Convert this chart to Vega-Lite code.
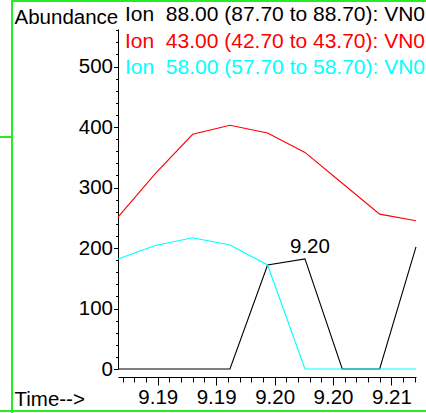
{
  "$schema": "https://vega.github.io/schema/vega-lite/v6.json",
  "width": 298,
  "height": 340,
  "autosize": {"type": "none"},
  "padding": {"left": 118, "top": 29, "right": 10, "bottom": 44},
  "background": "white",
  "config": {
    "view": {"stroke": null},
    "font": "Liberation Sans",
    "axis": {"grid": false, "domainColor": "black", "tickColor": "black", "labelColor": "black", "titleColor": "black", "labelFont": "Liberation Sans", "titleFont": "Liberation Sans", "labelFontSize": 20.5, "titleFontSize": 20.5, "titleFontWeight": "normal", "labelOverlap": false, "labelFlush": false, "labelBound": false}
  },
  "datasets": {
    "scans": [
      {"t": 9.1856, "ion": "Ion\u00a0\u00a088.00 (87.70 to 88.70): VN0", "abundance": 0},
      {"t": 9.18879, "ion": "Ion\u00a0\u00a088.00 (87.70 to 88.70): VN0", "abundance": 0},
      {"t": 9.19199, "ion": "Ion\u00a0\u00a088.00 (87.70 to 88.70): VN0", "abundance": 0},
      {"t": 9.19518, "ion": "Ion\u00a0\u00a088.00 (87.70 to 88.70): VN0", "abundance": 0},
      {"t": 9.1984, "ion": "Ion\u00a0\u00a088.00 (87.70 to 88.70): VN0", "abundance": 172},
      {"t": 9.2016, "ion": "Ion\u00a0\u00a088.00 (87.70 to 88.70): VN0", "abundance": 182},
      {"t": 9.20479, "ion": "Ion\u00a0\u00a088.00 (87.70 to 88.70): VN0", "abundance": 0},
      {"t": 9.20799, "ion": "Ion\u00a0\u00a088.00 (87.70 to 88.70): VN0", "abundance": 0},
      {"t": 9.2111, "ion": "Ion\u00a0\u00a088.00 (87.70 to 88.70): VN0", "abundance": 202},
      {"t": 9.1856, "ion": "Ion\u00a0\u00a043.00 (42.70 to 43.70): VN0", "abundance": 251},
      {"t": 9.18879, "ion": "Ion\u00a0\u00a043.00 (42.70 to 43.70): VN0", "abundance": 323},
      {"t": 9.19199, "ion": "Ion\u00a0\u00a043.00 (42.70 to 43.70): VN0", "abundance": 388},
      {"t": 9.19518, "ion": "Ion\u00a0\u00a043.00 (42.70 to 43.70): VN0", "abundance": 403},
      {"t": 9.1984, "ion": "Ion\u00a0\u00a043.00 (42.70 to 43.70): VN0", "abundance": 390},
      {"t": 9.2016, "ion": "Ion\u00a0\u00a043.00 (42.70 to 43.70): VN0", "abundance": 358},
      {"t": 9.20479, "ion": "Ion\u00a0\u00a043.00 (42.70 to 43.70): VN0", "abundance": 307},
      {"t": 9.20799, "ion": "Ion\u00a0\u00a043.00 (42.70 to 43.70): VN0", "abundance": 256},
      {"t": 9.2111, "ion": "Ion\u00a0\u00a043.00 (42.70 to 43.70): VN0", "abundance": 245},
      {"t": 9.1856, "ion": "Ion\u00a0\u00a058.00 (57.70 to 58.70): VN0", "abundance": 182},
      {"t": 9.18879, "ion": "Ion\u00a0\u00a058.00 (57.70 to 58.70): VN0", "abundance": 204},
      {"t": 9.19199, "ion": "Ion\u00a0\u00a058.00 (57.70 to 58.70): VN0", "abundance": 217},
      {"t": 9.19518, "ion": "Ion\u00a0\u00a058.00 (57.70 to 58.70): VN0", "abundance": 205},
      {"t": 9.1984, "ion": "Ion\u00a0\u00a058.00 (57.70 to 58.70): VN0", "abundance": 172},
      {"t": 9.2016, "ion": "Ion\u00a0\u00a058.00 (57.70 to 58.70): VN0", "abundance": 0},
      {"t": 9.20479, "ion": "Ion\u00a0\u00a058.00 (57.70 to 58.70): VN0", "abundance": 0},
      {"t": 9.20799, "ion": "Ion\u00a0\u00a058.00 (57.70 to 58.70): VN0", "abundance": 0},
      {"t": 9.2111, "ion": "Ion\u00a0\u00a058.00 (57.70 to 58.70): VN0", "abundance": 0}
    ],
    "peaks": [
      {"t": 9.2016, "abundance": 182}
    ]
  },
  "layer": [
    {
      "data": {"values": [{}]},
      "mark": {"type": "rule", "color": "#22ee22", "strokeWidth": 2},
      "encoding": {
        "x": {"datum": 9.17653, "type": "quantitative", "scale": {"domain": [9.1856, 9.2111], "nice": false, "zero": false}},
        "y": {"datum": 612, "type": "quantitative", "scale": {"domain": [0, 562], "nice": false}},
        "y2": {"datum": -74}
      }
    },
    {
      "data": {"values": [{}]},
      "mark": {"type": "rule", "color": "#22ee22", "strokeWidth": 2},
      "encoding": {
        "x": {"datum": 9.17653, "type": "quantitative", "scale": {"domain": [9.1856, 9.2111], "nice": false, "zero": false}},
        "x2": {"datum": 9.2125},
        "y": {"datum": 608.3, "type": "quantitative", "scale": {"domain": [0, 562], "nice": false}}
      }
    },
    {
      "data": {"values": [{}]},
      "mark": {"type": "rule", "color": "#22ee22", "strokeWidth": 2},
      "encoding": {
        "x": {"datum": 9.1753, "type": "quantitative", "scale": {"domain": [9.1856, 9.2111], "nice": false, "zero": false}},
        "x2": {"datum": 9.2125},
        "y": {"datum": -69.6, "type": "quantitative", "scale": {"domain": [0, 562], "nice": false}}
      }
    },
    {
      "data": {"values": [{}]},
      "mark": {"type": "rule", "color": "#22ee22", "strokeWidth": 2},
      "encoding": {
        "x": {"datum": 9.1753, "type": "quantitative", "scale": {"domain": [9.1856, 9.2111], "nice": false, "zero": false}},
        "x2": {"datum": 9.17653},
        "y": {"datum": 383.5, "type": "quantitative", "scale": {"domain": [0, 562], "nice": false}}
      }
    },
    {
      "data": {"name": "scans"},
      "mark": {"type": "line", "strokeWidth": 1.1},
      "encoding": {
        "x": {
          "field": "t", "type": "quantitative",
          "scale": {"domain": [9.1856, 9.2111], "nice": false, "zero": false},
          "axis": {
            "title": "Time-->",
            "values": [9.186, 9.187, 9.188, 9.189, 9.19, 9.191, 9.192, 9.193, 9.194, 9.195, 9.196, 9.197, 9.198, 9.199, 9.2, 9.201, 9.202, 9.203, 9.204, 9.205, 9.206, 9.207, 9.208, 9.209, 9.21, 9.211],
            "tickCount": 200,
            "format": ".2f",
            "labelExpr": "round((datum.value - 9.189) * 1000) % 5 === 0 ? datum.label : ''",
            "tickSize": {"condition": {"test": "round((datum.value - 9.189) * 1000) % 5 === 0", "value": 8}, "value": 5},
            "labelOverlap": false,
            "labelFlush": false,
            "labelBound": false,
            "offset": 8,
            "labelPadding": 2,
            "titleAngle": 0,
            "titleAlign": "left",
            "titleAnchor": "start",
            "titleBaseline": "alphabetic",
            "titleX": -104,
            "titleY": 28
          }
        },
        "y": {
          "field": "abundance", "type": "quantitative",
          "scale": {"domain": [0, 562], "nice": false},
          "axis": {
            "title": "Abundance",
            "values": [0, 20, 40, 60, 80, 100, 120, 140, 160, 180, 200, 220, 240, 260, 280, 300, 320, 340, 360, 380, 400, 420, 440, 460, 480, 500, 520, 540, 560],
            "tickCount": 200,
            "labelExpr": "datum.value % 100 === 0 ? datum.label : ''",
            "tickSize": {"condition": {"test": "datum.value % 100 === 0", "value": 4.5}, "value": 2.5},
            "labelOverlap": false,
            "labelFlush": false,
            "labelBound": false,
            "labelPadding": 1,
            "titleAngle": 0,
            "titleAlign": "left",
            "titleAnchor": "start",
            "titleBaseline": "alphabetic",
            "titleX": -104,
            "titleY": -6
          }
        },
        "color": {
          "field": "ion", "type": "nominal",
          "scale": {
            "domain": ["Ion\u00a0\u00a088.00 (87.70 to 88.70): VN0", "Ion\u00a0\u00a043.00 (42.70 to 43.70): VN0", "Ion\u00a0\u00a058.00 (57.70 to 58.70): VN0"],
            "range": ["#000000", "#ff0000", "#00ffff"]
          },
          "legend": {
            "orient": "none",
            "legendX": -14,
            "legendY": -24.5,
            "title": null,
            "padding": 0,
            "symbolSize": 0,
            "symbolStrokeWidth": 0,
            "symbolOpacity": 0,
            "labelOffset": 0,
            "labelFont": "Liberation Sans",
            "labelFontSize": 21,
            "labelLimit": 1000,
            "rowPadding": 4.5,
            "labelColor": {"expr": "scale('color', datum.value)"}
          }
        }
      }
    },
    {
      "data": {"name": "peaks"},
      "mark": {"type": "text", "font": "Liberation Sans", "fontSize": 20.5, "color": "black", "align": "center", "baseline": "alphabetic", "dx": 5, "dy": -6},
      "encoding": {
        "x": {"field": "t", "type": "quantitative", "scale": {"domain": [9.1856, 9.2111], "nice": false, "zero": false}},
        "y": {"field": "abundance", "type": "quantitative", "scale": {"domain": [0, 562], "nice": false}},
        "text": {"field": "t", "type": "quantitative", "format": ".2f"}
      }
    }
  ]
}
